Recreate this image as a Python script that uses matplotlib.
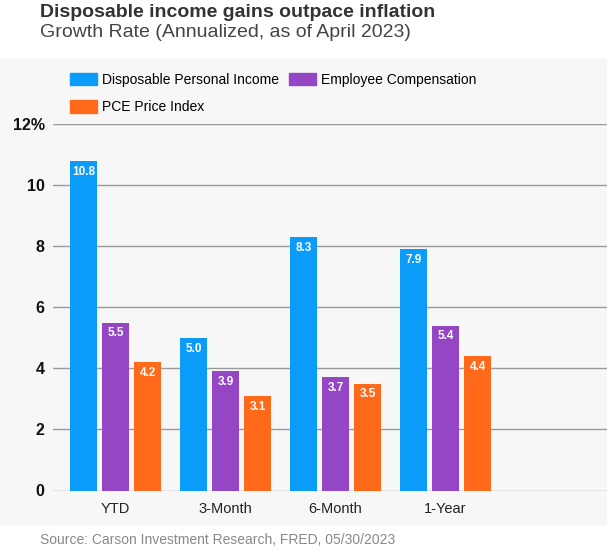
import matplotlib
matplotlib.use("Agg")
import matplotlib.pyplot as plt
from matplotlib.patches import Rectangle, Patch
import numpy as np

plt.rcParams['font.family'] = ['Liberation Sans', 'DejaVu Sans']

categories = ["YTD", "3-Month", "6-Month", "1-Year"]
series_names = ["Disposable Personal Income", "Employee Compensation", "PCE Price Index"]
dpi_income = [10.8, 5.0, 8.3, 7.9]
emp_comp = [5.5, 3.9, 3.7, 5.4]
pce = [4.2, 3.1, 3.5, 4.4]
yticks = [0, 2, 4, 6, 8, 10, 12]
ytick_labels = ["0", "2", "4", "6", "8", "10", "12%"]

colors = ["#0a9cf8", "#9446c4", "#ff6a1a"]

W, H = 607, 550
fig = plt.figure(figsize=(W / 100, H / 100), dpi=100)
fig.patch.set_facecolor("white")

# gray panel
fig.patches.append(Rectangle((0, (H - 526) / H), 1, (526 - 58) / H,
                             transform=fig.transFigure, facecolor="#f7f7f7",
                             edgecolor="none", zorder=-10))

ax_left = 53 / W
ax_bottom = (H - 490.5) / H
ax_h = (490.5 - 124) / H
ax = fig.add_axes([ax_left, ax_bottom, 1 - ax_left, ax_h])
ax.set_zorder(5)
ax.set_facecolor("none")

x = np.arange(len(categories))
step = 32 / 110
bw = 27 / 110
series = [dpi_income, emp_comp, pce]
for i, (vals, col) in enumerate(zip(series, colors)):
    pos = x + (i - 1) * step
    bars = ax.bar(pos, vals, width=bw, color=col, zorder=3, label=series_names[i])
    for b, v in zip(bars, vals):
        ax.annotate(f"{v:.1f}", (b.get_x() + b.get_width() / 2, v),
                    xytext=(0, -3.5), textcoords="offset points",
                    ha="center", va="top", color="white",
                    fontsize=8.5, fontweight="bold", zorder=4)

ax.set_xlim(-(115.5 - 53) / 110, (607 - 115.5) / 110)
ax.set_ylim(0, 12)
ax.set_yticks(yticks)
ax.set_yticklabels(ytick_labels, fontsize=11.5, fontweight="bold", color="#111111")
ax.set_xticks(x)
ax.set_xticklabels(categories, fontsize=10.5, color="#222222")
ax.tick_params(axis="y", length=0, pad=6)
ax.tick_params(axis="x", length=0, pad=8)
ax.grid(axis="y", color="#9a9a9a", linewidth=1, zorder=1)
for s in ax.spines.values():
    s.set_visible(False)

handles = [Patch(color=colors[0]), Patch(color=colors[2]), Patch(color=colors[1])]
labels = [series_names[0], series_names[2], series_names[1]]
fig.legend(handles, labels, ncol=2, loc="upper left",
           bbox_to_anchor=(70 / W, 1 - 73 / H), frameon=False,
           fontsize=10, handlelength=1.95, handleheight=1.0,
           handletextpad=0.35, columnspacing=0.75, labelspacing=0.95,
           borderaxespad=0, borderpad=0)

fig.text(40 / W, 1 - 17 / H, "Disposable income gains outpace inflation",
         fontsize=14, fontweight="bold", color="#333333", va="baseline", ha="left")
fig.text(40 / W, 1 - 37 / H, "Growth Rate (Annualized, as of April 2023)",
         fontsize=14, color="#444444", va="baseline", ha="left")
fig.text(40 / W, 1 - 540 / H, "Source: Carson Investment Research, FRED, 05/30/2023",
         fontsize=10, color="#888888", va="center", ha="left")

fig.savefig("out.png", dpi=100)
